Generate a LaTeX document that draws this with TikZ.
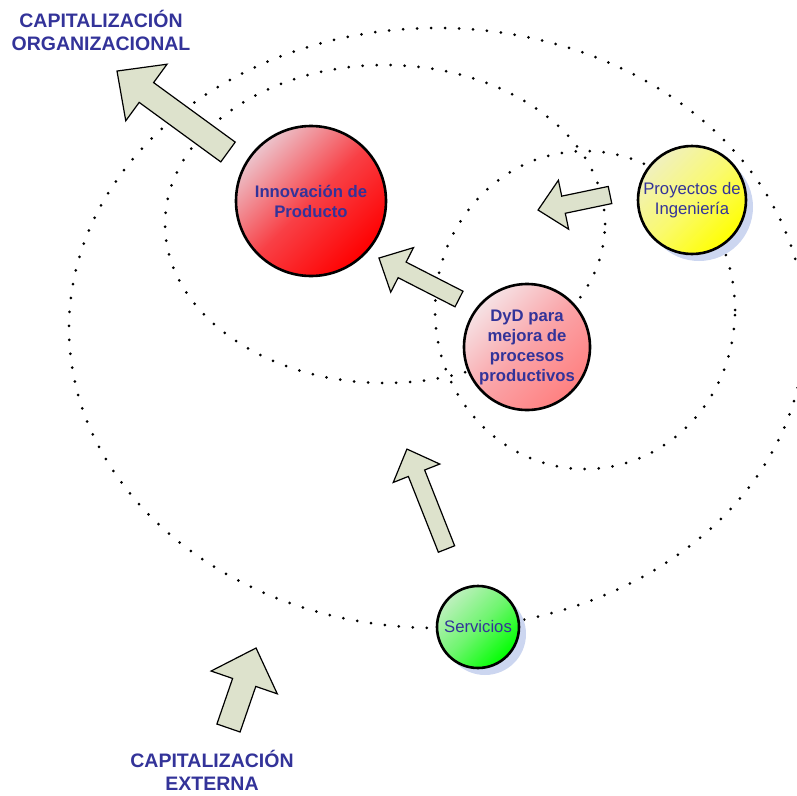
\documentclass[tikz,border=0pt]{standalone}
\usepackage{fontspec}
\setmainfont{Liberation Sans}
\usetikzlibrary{shadows}
\definecolor{textoazul}{RGB}{51,51,153}
\definecolor{flechagris}{RGB}{221,226,204}
\definecolor{sombraazul}{RGB}{204,214,240}
\definecolor{rojoclaro}{RGB}{236,196,204}
\definecolor{rojomedio}{RGB}{248,64,70}
\definecolor{rosaclaro}{RGB}{246,226,229}
\definecolor{rosamedio}{RGB}{250,164,168}
\definecolor{rosafuerte}{RGB}{255,128,128}
\definecolor{amarilloclaro}{RGB}{240,240,190}
\definecolor{amarillomedio}{RGB}{250,250,110}
\definecolor{verdeclaro}{RGB}{190,240,190}
\definecolor{verdemedio}{RGB}{110,245,110}
\tikzset{
  circulo/.style={
    circle, draw=black, line width=2.6pt, inner sep=0pt,
    text=textoazul, align=center,
    font=\fontsize{16.7}{20}\selectfont
  },
  negrita/.style={font=\fontsize{16.7}{20}\selectfont\bfseries},
  sombra/.style={
    drop shadow={shadow xshift=7pt, shadow yshift=-7pt,
      fill=sombraazul, opacity=1}
  },
  titulo/.style={
    inner sep=0pt, align=center, text=textoazul,
    font=\fontsize{19.5}{23}\selectfont\bfseries
  },
  punteado/.style={
    line width=3pt, line cap=round, dash pattern=on 0pt off 14pt
  },
  flechaestilo/.style={draw=black, line width=1.2pt, fill=flechagris}
}
% flecha de bloque: [tamano]{cola}{angulo}{largo}
\newcommand{\flecha}[4][1]{%
  \begin{scope}[shift={#2}, rotate=#3]
    \draw[flechaestilo] (0,-8.75*#1) -- ({#4-26*#1},-8.75*#1)
      -- ({#4-26*#1},-25*#1) -- (#4,0) -- ({#4-26*#1},25*#1)
      -- ({#4-26*#1},8.75*#1) -- (0,8.75*#1) -- cycle;
  \end{scope}}

\begin{document}
\begin{tikzpicture}[x=1pt, y=1pt]
  \useasboundingbox (0,0) rectangle (797,-795);
  \clip (0,0) rectangle (797,-795);

  % Orbitas punteadas
  \draw[punteado] (437,-328) ellipse [x radius=368pt, y radius=300pt];
  \draw[punteado] (385,-224) ellipse [x radius=220pt, y radius=159pt];
  \draw[punteado] (585,-310) ellipse [x radius=150pt, y radius=159pt];

  % Actividades
  \node[circulo, negrita, minimum size=150pt,
    top color=rojoclaro, bottom color=red, middle color=rojomedio,
    shading angle=45] (innov) at (311,-201) {Innovación de\\Producto};
  \node[circulo, negrita, minimum size=126pt,
    top color=rosaclaro, bottom color=rosafuerte, middle color=rosamedio,
    shading angle=45] (dyd) at (527,-347)
    {DyD para\\mejora de\\procesos\\productivos};
  \node[circulo, sombra, minimum size=108pt,
    top color=amarilloclaro, bottom color=yellow, middle color=amarillomedio,
    shading angle=45] (proy) at (692,-200) {Proyectos de\\Ingeniería};
  \node[circulo, sombra, minimum size=82pt,
    top color=verdeclaro, bottom color=green, middle color=verdemedio,
    shading angle=45] (serv) at (478,-627) {Servicios};

  % Titulos
  \node[titulo] (capOrg) at (101,-30) {CAPITALIZACIÓN\\ORGANIZACIONAL};
  \node[titulo] (capExt) at (212,-770) {CAPITALIZACIÓN\\EXTERNA};

  % Flechas
  \flecha[1.4]{(228,-152)}{143.9}{137.4}
  \flecha{(610,-195)}{191.8}{73.5}
  \flecha{(459,-299)}{152.9}{89.9}
  \flecha{(446.5,-549)}{111.6}{107.5}
  \flecha[1.4]{(228.5,-728)}{71}{84.6}

\end{tikzpicture}
\end{document}
